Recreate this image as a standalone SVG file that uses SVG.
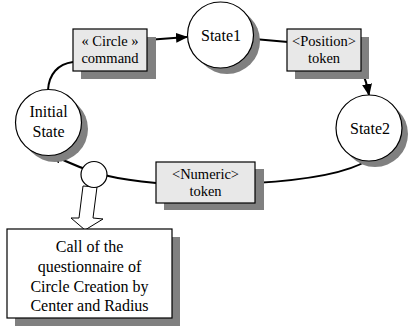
<svg xmlns="http://www.w3.org/2000/svg" width="409" height="327" viewBox="0 0 409 327">
<style>
.shadow{fill:#808080;stroke:none}
.state{fill:#ffffff;stroke:#000;stroke-width:1.2}
.box{fill:#e8e8e8;stroke:#000;stroke-width:1.2}
.note{fill:#ffffff;stroke:#000;stroke-width:1.2}
.conn{fill:none;stroke:#000;stroke-width:2}
.lbl{fill:#000;text-anchor:middle}
.t16{font-size:16px}
.t14{font-size:14.5px}
</style>
<defs>
<marker id="arr" markerWidth="12" markerHeight="10" refX="11" refY="5" orient="auto" markerUnits="userSpaceOnUse">
<path d="M0,0 L12,5 L0,10 Z" fill="#000"/>
</marker>
</defs>
<rect width="409" height="327" fill="#fff"/>
<g id="connectors">
<path class="conn" d="M48,90 C49,74 58,64 73,62"/>
<path class="conn" d="M147,40 L187,37" marker-end="url(#arr)"/>
<path class="conn" d="M254,39 L288,42"/>
<path class="conn" d="M362,71 C365,78 367,84 369,95" marker-end="url(#arr)"/>
<path class="conn" d="M368,160 Q340,178 255,183"/>
<path class="conn" d="M156,183 C125,180 95,177 51,154" marker-end="url(#arr)"/>
<polygon points="83,186 79,218 71,218 85,230 103,219 93,218 97,187" fill="#fff" stroke="#000" stroke-width="1"/>
</g>
<g font-family="Liberation Serif, DejaVu Serif, serif">
<g id="initial">
<circle class="shadow" cx="55" cy="129" r="33"/>
<circle class="state" cx="48.5" cy="122.5" r="33"/>
<text class="lbl t16" x="48.5" y="117">Initial</text>
<text class="lbl t16" x="48.5" y="137">State</text>
</g>
<g id="cmd">
<rect class="shadow" x="81" y="37" width="75" height="42"/>
<rect class="box" x="73" y="29" width="74" height="42"/>
<text class="lbl t14" x="110" y="46">« Circle »</text>
<text class="lbl t14" x="110" y="63">command</text>
</g>
<g id="state1">
<circle class="shadow" cx="227" cy="41" r="33"/>
<circle class="state" cx="220.5" cy="35" r="33"/>
<text class="lbl t16" x="221" y="41">State1</text>
</g>
<g id="pos">
<rect class="shadow" x="295" y="37" width="74" height="42"/>
<rect class="box" x="287" y="29" width="74" height="42"/>
<text class="lbl t14" x="324" y="46">&lt;Position&gt;</text>
<text class="lbl t14" x="324" y="63">token</text>
</g>
<g id="state2">
<circle class="shadow" cx="375" cy="134" r="33"/>
<circle class="state" cx="369" cy="128" r="33"/>
<text class="lbl t16" x="370" y="134">State2</text>
</g>
<g id="num">
<rect class="shadow" x="164" y="169" width="100" height="41"/>
<rect class="box" x="156" y="162" width="99" height="41"/>
<text class="lbl t14" x="205.5" y="179">&lt;Numeric&gt;</text>
<text class="lbl t14" x="205.5" y="196">token</text>
</g>
<g id="junction">
<circle class="state" cx="94" cy="174.5" r="13"/>
</g>
<g id="call">
<rect class="shadow" x="15" y="237" width="165" height="89"/>
<rect class="note" x="7" y="229" width="165" height="89"/>
<text class="lbl t16" x="89.5" y="252">Call of the</text>
<text class="lbl t16" x="89.5" y="272">questionnaire of</text>
<text class="lbl t16" x="89.5" y="292">Circle Creation by</text>
<text class="lbl t16" x="89.5" y="311">Center and Radius</text>
</g>
</g>
</svg>
